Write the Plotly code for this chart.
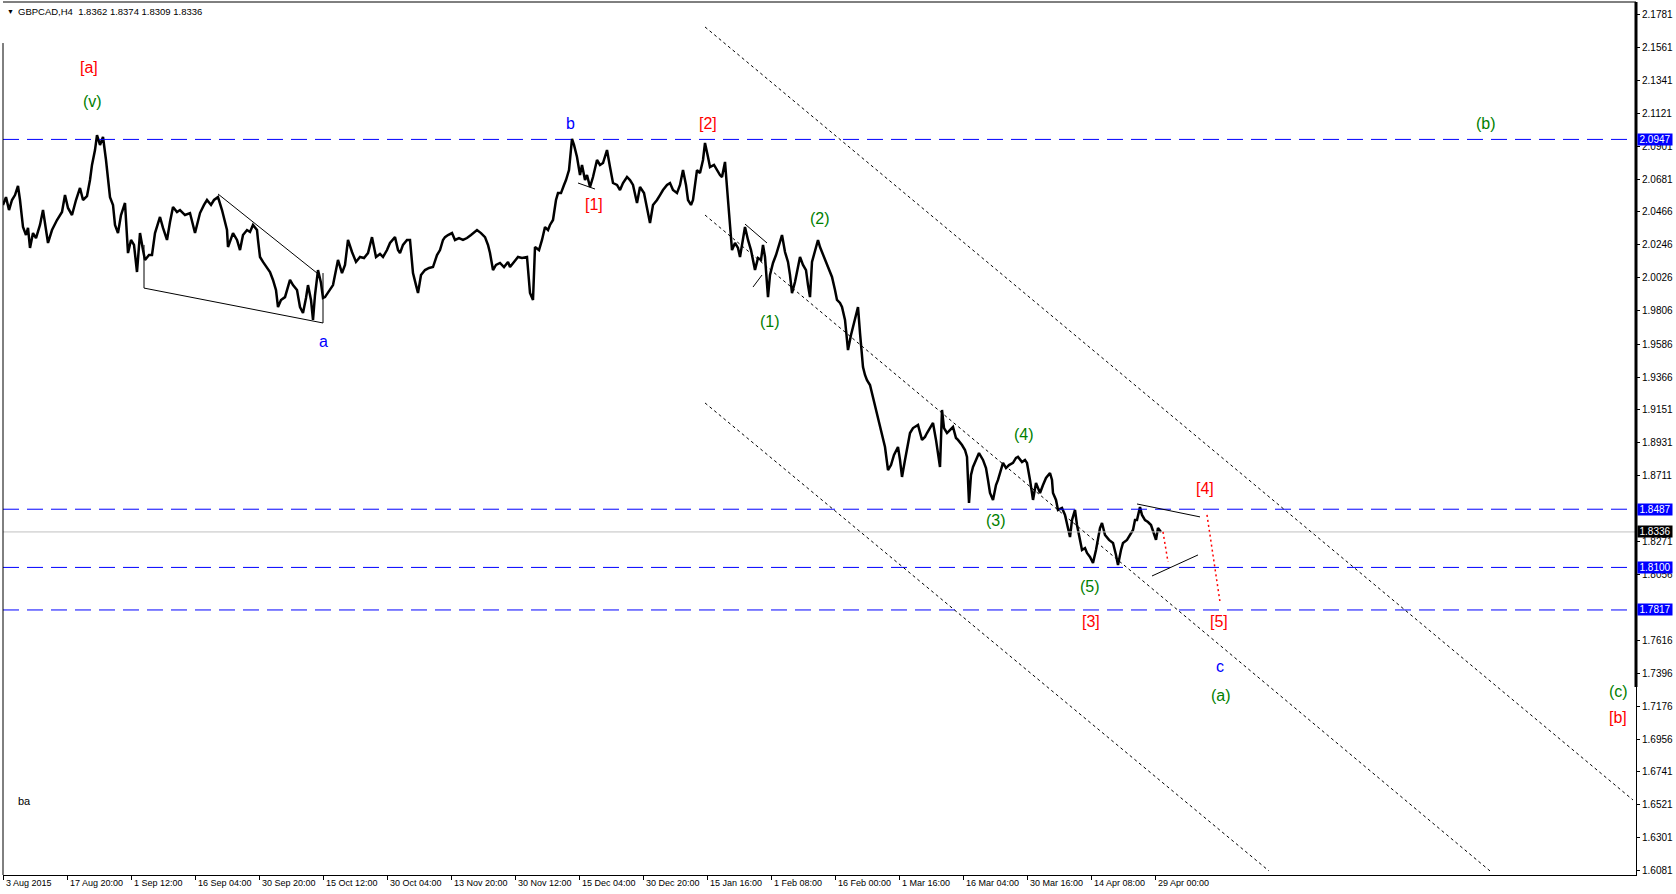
import plotly.graph_objects as go

# ---------------- data ----------------
symbol = "GBPCAD,H4"
ohlc_header = [1.8362, 1.8374, 1.8309, 1.8336]

# H4 bar index (0 = 3 Aug 2015 00:00) and price along the traced path
bar_index = [
    0, 3, 6, 9, 12, 15, 17, 20, 23, 25, 27, 30, 33, 37, 40, 43, 45, 49, 54, 59,
    62, 65, 69, 73, 77, 80, 84, 87, 89, 92, 94, 97, 100, 103, 105, 107, 110, 112, 115, 118,
    122, 124, 125, 128, 131, 134, 137, 140, 142, 146, 149, 152, 157, 160, 164, 167, 170, 174, 177, 182,
    187, 192, 197, 201, 204, 208, 211, 215, 219, 224, 225, 230, 234, 237, 240, 244, 247, 250, 254, 255,
    257, 260, 264, 267, 270, 273, 275, 278, 282, 287, 290, 294, 297, 300, 303, 305, 308, 310, 312, 315,
    318, 320, 322, 325, 330, 335, 339, 342, 345, 349, 353, 357, 361, 365, 369, 373, 377, 380, 384, 387,
    392, 395, 397,
    400, 404, 407, 410, 413, 415, 418, 422, 426, 430, 434, 437, 440, 442, 445, 449, 452, 456, 460, 464,
    468, 472, 474, 478, 482, 485, 487, 490, 493, 497, 501, 505, 507, 511, 515, 519, 524, 527, 530, 532,
    536, 539, 542, 545, 547, 550, 553, 555, 558, 561, 563, 566, 568, 569, 571, 574, 577, 579, 582, 584,
    587, 590, 594, 597, 600, 604, 607, 610, 614, 617, 620, 624, 627, 630, 634, 637, 641, 644, 647, 650,
    654, 657, 660, 664, 667, 670, 674, 677, 680, 683, 685, 688, 690, 694, 697, 700, 702, 705, 707, 711,
    714, 717, 719, 722, 725, 727, 729, 732, 735, 737, 740, 742, 745, 748, 752, 755, 758, 760, 762, 765,
    767, 770, 773, 776, 779, 782, 785, 787, 789, 792, 795, 797, 800, 803, 805, 807, 809, 811, 815, 817,
    819, 822, 825, 829, 832, 834, 837, 839, 842, 845, 848, 851, 855, 857, 860, 862, 864, 867, 870, 872,
    874, 877, 879, 882, 885, 888, 891, 895, 897, 899, 902, 905, 907, 910, 912, 915, 919, 922, 924, 927,
    930, 933, 935, 937, 939, 941, 944, 947, 950, 953, 955, 959, 962, 964, 966, 968, 970, 973, 976, 980,
    983, 985, 987, 990, 993, 995, 998, 1000, 1003, 1006, 1010, 1013, 1015, 1019, 1022, 1024, 1027, 1030, 1033, 1037,
    1040, 1043, 1047, 1049, 1050, 1053, 1055, 1059, 1062, 1064, 1067, 1069, 1072, 1074, 1077, 1079, 1082, 1084, 1087, 1090,
    1093, 1095, 1097, 1099, 1102, 1106, 1110, 1113, 1115, 1118, 1120, 1124, 1127, 1130, 1132, 1134, 1137, 1139, 1142, 1145,
    1148, 1151, 1153, 1155, 1158,
]
price = [
    2.0511, 2.0563, 2.0477, 2.0544, 2.0577, 2.0637, 2.0544, 2.0364, 2.0311, 2.0358, 2.0225, 2.0324, 2.0291, 2.0378, 2.0477, 2.0358, 2.0258, 2.0344, 2.0411, 2.0464,
    2.0577, 2.0491, 2.0444, 2.0544, 2.0624, 2.0544, 2.0570, 2.0677, 2.0777, 2.0876, 2.0976, 2.0910, 2.0963, 2.0810, 2.0690, 2.0563, 2.0511, 2.0378, 2.0324, 2.0444,
    2.0524, 2.0311, 2.0191, 2.0278, 2.0245, 2.0065, 2.0324, 2.0211, 2.0145, 2.0178, 2.0178, 2.0324, 2.0431, 2.0358, 2.0278, 2.0397, 2.0497, 2.0464, 2.0477, 2.0444,
    2.0457, 2.0324, 2.0457, 2.0511, 2.0544, 2.0511, 2.0544, 2.0563, 2.0477, 2.0344, 2.0231, 2.0324, 2.0278, 2.0211, 2.0311, 2.0344, 2.0331, 2.0378, 2.0344, 2.0278,
    2.0165, 2.0132, 2.0098, 2.0065, 2.0012, 1.9945, 1.9832, 1.9879, 1.9898, 2.0012, 1.9978, 1.9945, 1.9832, 1.9792, 1.9892, 1.9978, 1.9879, 1.9746, 1.9912, 2.0078,
    1.9992, 1.9892, 1.9898, 1.9925, 1.9978, 2.0145, 2.0058, 2.0112, 2.0278, 2.0198, 2.0132, 2.0165, 2.0158, 2.0191, 2.0297, 2.0165, 2.0185, 2.0165, 2.0211, 2.0258,
    2.0297, 2.0211, 2.0191,
    2.0245, 2.0278, 2.0278, 2.0058, 1.9978, 1.9925, 2.0045, 2.0078, 2.0092, 2.0098, 2.0178, 2.0211, 2.0278, 2.0297, 2.0311, 2.0324, 2.0278, 2.0291, 2.0278, 2.0291,
    2.0311, 2.0331, 2.0344, 2.0324, 2.0297, 2.0245, 2.0191, 2.0078, 2.0112, 2.0125, 2.0098, 2.0132, 2.0098, 2.0132, 2.0165, 2.0158, 2.0165, 1.9925, 1.9879, 2.0231,
    2.0211, 2.0278, 2.0364, 2.0344, 2.0378, 2.0411, 2.0544, 2.0590, 2.0590, 2.0644, 2.0677, 2.0743, 2.0876, 2.0950, 2.0910, 2.0830, 2.0710, 2.0777, 2.0677, 2.0710,
    2.0630, 2.0697, 2.0810, 2.0777, 2.0790, 2.0876, 2.0763, 2.0657, 2.0644, 2.0610, 2.0657, 2.0697, 2.0677, 2.0644, 2.0524, 2.0630, 2.0590, 2.0497, 2.0391, 2.0511,
    2.0544, 2.0577, 2.0610, 2.0644, 2.0657, 2.0610, 2.0590, 2.0644, 2.0743, 2.0644, 2.0544, 2.0511, 2.0544, 2.0743, 2.0723, 2.0810, 2.0923, 2.0830, 2.0763, 2.0777,
    2.0743, 2.0710, 2.0697, 2.0797, 2.0544, 2.0378, 2.0211, 2.0258, 2.0225, 2.0165, 2.0278, 2.0364, 2.0278, 2.0211, 2.0078, 2.0158, 2.0145, 2.0245, 2.0165, 1.9898,
    2.0045, 2.0125, 2.0178, 2.0245, 2.0311, 2.0198, 2.0132, 2.0045, 1.9925, 1.9998, 2.0112, 2.0165, 2.0112, 2.0078, 1.9978, 1.9898, 2.0132, 2.0178, 2.0278, 2.0231,
    2.0198, 2.0145, 2.0092, 2.0032, 1.9945, 1.9879, 1.9859, 1.9832, 1.9746, 1.9546, 1.9646, 1.9726, 1.9832, 1.9660, 1.9433, 1.9380, 1.9346, 1.9313, 1.9234, 1.9180,
    1.9127, 1.9047, 1.8994, 1.8901, 1.8748, 1.8781, 1.8848, 1.8901, 1.8815, 1.8702, 1.8815, 1.8914, 1.8994, 1.9027, 1.9034, 1.9047, 1.8948, 1.8968, 1.8994, 1.9027,
    1.9061, 1.8948, 1.8861, 1.8768, 1.9147, 1.9027, 1.8994, 1.9014, 1.9034, 1.8961, 1.8948, 1.8914, 1.8881, 1.8835, 1.8529, 1.8715, 1.8768, 1.8815, 1.8861, 1.8815,
    1.8761, 1.8682, 1.8595, 1.8549, 1.8648, 1.8682, 1.8748, 1.8795, 1.8761, 1.8781, 1.8795, 1.8828, 1.8835, 1.8801, 1.8815, 1.8795, 1.8682, 1.8549, 1.8662, 1.8595,
    1.8648, 1.8695, 1.8728, 1.8682, 1.8595, 1.8549, 1.8482, 1.8495, 1.8449, 1.8395, 1.8302, 1.8415, 1.8482, 1.8382, 1.8283, 1.8216, 1.8229, 1.8196, 1.8170, 1.8130,
    1.8216, 1.8283, 1.8362, 1.8395, 1.8316, 1.8283, 1.8263, 1.8183, 1.8116, 1.8216, 1.8263, 1.8283, 1.8316, 1.8349, 1.8415, 1.8415, 1.8502, 1.8449, 1.8415, 1.8402,
    1.8382, 1.8316, 1.8283, 1.8362, 1.8336,
]

tick_index = [0, 64, 128, 192, 256, 320, 384, 448, 512, 576, 640, 704, 768, 832, 896, 960, 1024, 1088, 1152]
tick_labels = ["3 Aug 2015", "17 Aug 20:00", "1 Sep 12:00", "16 Sep 04:00", "30 Sep 20:00",
               "15 Oct 12:00", "30 Oct 04:00", "13 Nov 20:00", "30 Nov 12:00", "15 Dec 04:00",
               "30 Dec 20:00", "15 Jan 16:00", "1 Feb 08:00", "16 Feb 00:00", "1 Mar 16:00",
               "16 Mar 04:00", "30 Mar 16:00", "14 Apr 08:00", "29 Apr 00:00"]

price_ticks = [2.1781, 2.1561, 2.1341, 2.1121, 2.0901, 2.0681, 2.0466, 2.0246, 2.0026, 1.9806,
               1.9586, 1.9366, 1.9151, 1.8931, 1.8711, 1.8271, 1.8056, 1.7616, 1.7396, 1.7176,
               1.6956, 1.6741, 1.6521, 1.6301, 1.6081]

level_prices = [2.0947, 1.8487, 1.8100, 1.7817]
last_price = 1.8336

# wave labels: text, bar index, price, colour
wave_text = ["[a]", "(v)", "a", "b", "[2]", "[1]", "(2)", "(1)", "(4)", "(3)", "(5)", "[3]",
             "[4]", "[5]", "c", "(a)", "(b)", "(c)", "[b]"]
wave_idx = [86, 89, 320, 567, 705, 591, 817, 767, 1021, 993, 1087, 1088,
            1202, 1216, 1217, 1218, 1483, 1615, 1615]
wave_price = [2.1428, 2.1196, 1.9606, 2.1056, 2.1056, 2.0511, 2.0418, 1.9739, 1.8981, 1.8409, 1.7970, 1.7737,
              1.8628, 1.7737, 1.7438, 1.7245, 2.1056, 1.7272, 1.7099]
wave_color = ["red", "green", "blue", "blue", "red", "red", "green", "green", "green", "green", "green", "red",
              "red", "red", "blue", "green", "green", "green", "red"]

# dotted channel lines: (start idx, start price, end idx, end price)
channel_lines = [
    (702, 2.1695, 1630, 1.6553),
    (702, 2.0444, 1487, 1.6081),
    (702, 1.9194, 1266, 1.6081),
]
# solid trend lines
trend_lines = [
    (141, 1.9958, 320, 1.9726),
    (215, 2.0584, 314, 2.0058),
    (141, 2.0245, 141, 1.9958),
    (320, 2.0058, 320, 1.9726),
    (575, 2.0657, 592, 2.0617),
    (742, 2.0384, 764, 2.0258),
    (750, 1.9965, 759, 2.0045),
    (1134, 1.8522, 1197, 1.8436),
    (1149, 1.8043, 1195, 1.8183),
]
# red dotted projection lines
projection_lines = [
    (1160, 1.8336, 1165, 1.8136),
    (1204, 1.8449, 1217, 1.7870),
]

# ---------------- figure ----------------
FONT = "Liberation Sans, Arial, sans-serif"
fig = go.Figure()

fig.add_trace(go.Scatter(x=bar_index, y=price, mode="lines",
                         line=dict(color="black", width=2.5), hoverinfo="skip", showlegend=False))

shapes = []
# horizontal levels
for lv in level_prices:
    shapes.append(dict(type="line", xref="paper", x0=0, x1=1, yref="y", y0=lv, y1=lv,
                       line=dict(color="#0000ff", width=1, dash="16px,8px")))
shapes.append(dict(type="line", xref="paper", x0=0, x1=1, yref="y", y0=last_price, y1=last_price,
                   line=dict(color="#c0c0c0", width=1)))
for (a, pa, b, pb) in channel_lines:
    shapes.append(dict(type="line", xref="x", yref="y", x0=a, y0=pa, x1=b, y1=pb,
                       line=dict(color="black", width=1, dash="3px,3px")))
for (a, pa, b, pb) in trend_lines:
    shapes.append(dict(type="line", xref="x", yref="y", x0=a, y0=pa, x1=b, y1=pb,
                       line=dict(color="black", width=1)))
for (a, pa, b, pb) in projection_lines:
    shapes.append(dict(type="line", xref="x", yref="y", x0=a, y0=pa, x1=b, y1=pb,
                       line=dict(color="red", width=1.5, dash="2px,3px")))
# frame
shapes.append(dict(type="line", xref="paper", yref="y", x0=0, x1=0, y0=1.6054, y1=2.1588,
                   line=dict(color="black", width=1)))
shapes.append(dict(type="line", xref="paper", yref="paper", x0=0, x1=1, y0=1, y1=1,
                   line=dict(color="black", width=1)))
shapes.append(dict(type="line", xref="paper", yref="y", x0=1, x1=1, y0=1.7305, y1=2.1861,
                   line=dict(color="black", width=3)))

annotations = []
for t, xi, yp, c in zip(wave_text, wave_idx, wave_price, wave_color):
    annotations.append(dict(x=xi, y=yp, xref="x", yref="y", text=t, showarrow=False,
                            font=dict(family=FONT, size=16, color=c), xanchor="center", yanchor="middle"))
annotations.append(dict(x=21, y=1.6547, xref="x", yref="y", text="ba", showarrow=False,
                        font=dict(family=FONT, size=11, color="black")))

# header
annotations.append(dict(x=0, y=1, xref="paper", yref="paper", text="▼", showarrow=False,
                        xanchor="left", yanchor="top", xshift=2, yshift=-4,
                        font=dict(family=FONT, size=7, color="black")))
header = symbol + "\u00a0\u00a0" + " ".join(f"{v:.4f}" for v in ohlc_header)
annotations.append(dict(x=0, y=1, xref="paper", yref="paper", text=header, showarrow=False,
                        xanchor="left", yanchor="top", xshift=13, yshift=-2,
                        font=dict(family=FONT, size=9.5, color="black")))

# x tick labels (left-aligned after tick, MT4 style)
for ti, tl in zip(tick_index, tick_labels):
    annotations.append(dict(x=ti, y=0, xref="x", yref="paper", text=tl, showarrow=False,
                            xanchor="left", yanchor="top", xshift=1, yshift=-1,
                            font=dict(family=FONT, size=9, color="black")))

# price boxes on the scale
for lv in level_prices:
    annotations.append(dict(x=1, y=lv, xref="paper", yref="y", text=f"{lv:.4f}", showarrow=False,
                            xanchor="left", yanchor="middle", xshift=1, bgcolor="#0000ff",
                            width=34, height=11, borderpad=0, align="center",
                            font=dict(family=FONT, size=10, color="white")))
annotations.append(dict(x=1, y=last_price, xref="paper", yref="y", text=f"{last_price:.4f}", showarrow=False,
                        xanchor="left", yanchor="middle", xshift=1, bgcolor="black",
                        width=34, height=11, borderpad=0, align="center",
                        font=dict(family=FONT, size=10, color="white")))

fig.update_layout(
    width=1676, height=894,
    margin=dict(l=3, r=40, t=2, b=19),
    paper_bgcolor="white", plot_bgcolor="white",
    showlegend=False,
    shapes=shapes, annotations=annotations,
    xaxis=dict(range=[0, 1633], showgrid=False, zeroline=False, showline=True, linecolor="black",
               linewidth=1, ticks="outside", ticklen=4, tickcolor="black", tickvals=tick_index,
               showticklabels=False, fixedrange=True),
    yaxis=dict(range=[1.6054, 2.1861], side="right", showgrid=False, zeroline=False, showline=True,
               linecolor="black", linewidth=1, ticks="outside", ticklen=3, tickcolor="black",
               tickvals=price_ticks, ticktext=[f"{v:.4f}" for v in price_ticks],
               tickfont=dict(family=FONT, size=10, color="black"), fixedrange=True),
)

fig.write_html("out.html", config={"displayModeBar": False},
               post_script="document.body.style.margin='0';document.body.style.overflow='hidden';")
